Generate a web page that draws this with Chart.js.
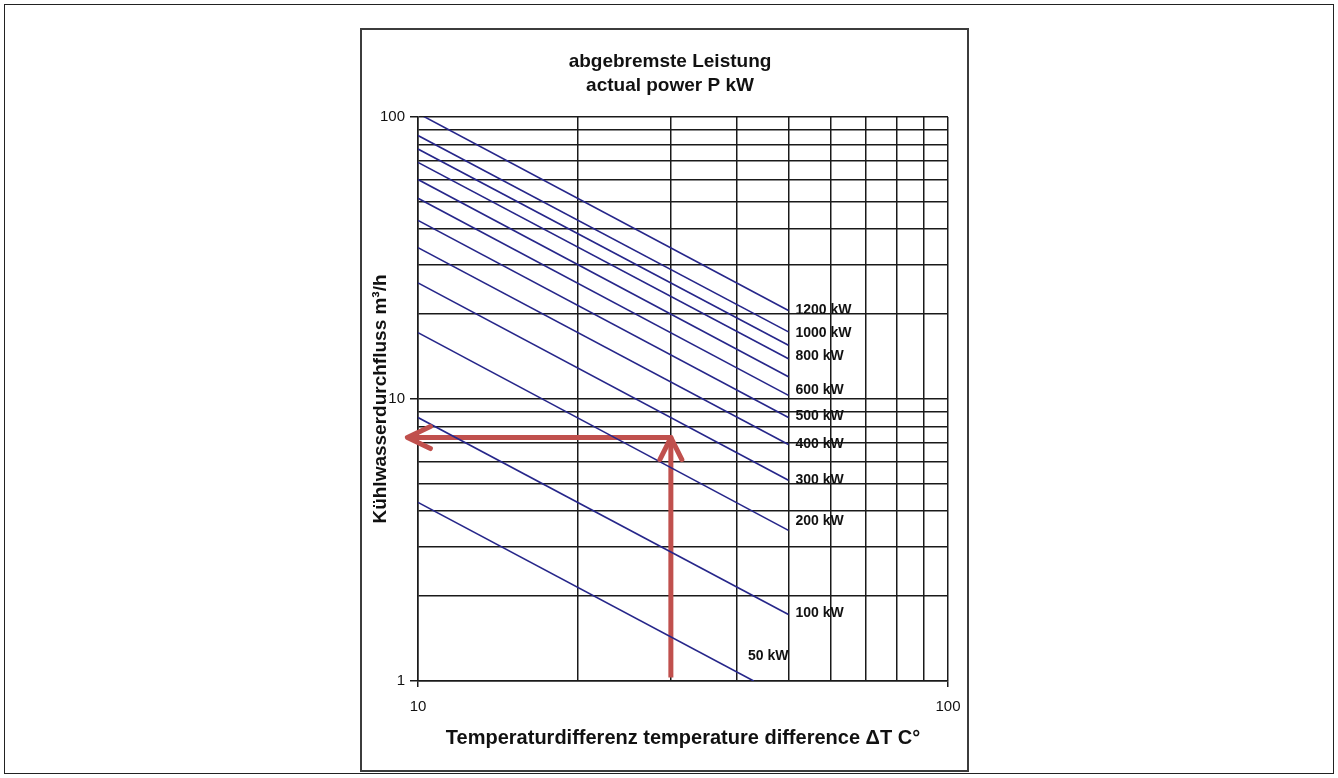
<!DOCTYPE html>
<html lang="de">
<head>
<meta charset="utf-8">
<title>Kühlwasserdurchfluss</title>
<script src="https://cdn.jsdelivr.net/npm/chart.js@4.4.1/dist/chart.umd.min.js"></script>
<style>
  html, body { margin: 0; padding: 0; background: #fff; }
  .page { position: relative; width: 1338px; height: 778px; overflow: hidden; }
  .page-border { position: absolute; left: 4px; top: 4px; width: 1330px; height: 770px; border: 1px solid #222; box-sizing: border-box; }
  .chart-frame { position: absolute; left: 360px; top: 28px; width: 609px; height: 744px; border: 2px solid #3c3c3c; box-sizing: border-box; }
  canvas { position: absolute; left: 0; top: 0; }
</style>
</head>
<body>
<div class="page">
  <div class="page-border"></div>
  <div class="chart-frame"></div>
  <canvas id="flowChart" width="1338" height="778"></canvas>
</div>
<script>
// one line per brake power, from dT = 10 to its end point
const powerLabels = ['1200 kW', '1000 kW', '900 kW', '800 kW', '700 kW', '600 kW', '500 kW', '400 kW', '300 kW', '200 kW', '100 kW', '50 kW'];
const shownLabels = ['1200 kW', '1000 kW', '800 kW', '600 kW', '500 kW', '400 kW', '300 kW', '200 kW', '100 kW', '50 kW'];
const startDeltaT = [10, 10, 10, 10, 10, 10, 10, 10, 10, 10, 10, 10];
const endDeltaT = [50, 50, 50, 50, 50, 50, 50, 50, 50, 50, 50, 43];
const flowStart = [103, 86, 77, 69, 60, 51.5, 43, 34.4, 25.8, 17.2, 8.6, 4.3];
const flowEnd = [20.6, 17.3, 15.5, 13.9, 12, 10.3, 8.6, 6.9, 5.15, 3.42, 1.72, 1];

// grid lines and labelled ticks
const xGridValues = [10, 20, 30, 40, 50, 60, 70, 80, 90, 100];
const yGridValues = [1, 2, 3, 4, 5, 6, 7, 8, 9, 10, 20, 30, 40, 50, 60, 70, 80, 90, 100];
const xTickLabels = [10, 100];
const yTickLabels = [1, 10, 100];

// reading example (red arrows)
const readingDeltaT = 30;
const readingFlow = 7.3;
const arrowStartFlow = 1.03;
const arrowTipDeltaT = 9.55;

const titleLines = ['abgebremste Leistung', 'actual power P kW'];

const FONT = '"Liberation Sans", Arial, sans-serif';
const GRID = '#1a1a1a';
const LINE_BLUE = '#26268a';
const ARROW_RED = '#c0504d';

const labelNudge = { '1000 kW': 1, '800 kW': -3, '600 kW': -5, '500 kW': -1, '200 kW': -9, '100 kW': -1 };

const datasets = powerLabels.map((name, i) => ({
  label: name,
  data: [
    { x: startDeltaT[i], y: flowStart[i] },
    { x: endDeltaT[i], y: flowEnd[i] },
  ],
  borderColor: LINE_BLUE,
  borderWidth: 1.6,
  pointRadius: 0,
  fill: false,
}));

datasets.push({
  label: 'Ablesebeispiel',
  data: [
    { x: readingDeltaT, y: arrowStartFlow },
    { x: readingDeltaT, y: readingFlow },
    { x: arrowTipDeltaT, y: readingFlow },
  ],
  borderColor: ARROW_RED,
  borderWidth: 5,
  borderJoinStyle: 'round',
  pointRadius: 0,
  fill: false,
  clip: false,
});

// two line heading, a bit left of the plot centre like the original sheet
const headingPlugin = {
  id: 'heading',
  beforeDraw(chart) {
    const { ctx, chartArea } = chart;
    const cx = (chartArea.left + chartArea.right) / 2 - 13;
    ctx.save();
    ctx.font = 'bold 19px ' + FONT;
    ctx.fillStyle = '#111';
    ctx.textAlign = 'center';
    ctx.textBaseline = 'middle';
    titleLines.forEach((line, i) => {
      ctx.fillText(line, cx, 62 + i * 24);
    });
    ctx.restore();
  },
};

const powerLabelPlugin = {
  id: 'powerLabels',
  afterDatasetsDraw(chart) {
    const { ctx, scales: { x, y } } = chart;
    ctx.save();
    ctx.font = 'bold 14px ' + FONT;
    ctx.fillStyle = '#111';
    ctx.textBaseline = 'middle';
    powerLabels.forEach((name, i) => {
      if (!shownLabels.includes(name)) {
        return;
      }
      const ex = x.getPixelForValue(endDeltaT[i]);
      const ey = y.getPixelForValue(flowEnd[i]);
      if (endDeltaT[i] < 50) {
        // 50 kW leaves the plot before 50 °C, label sits above it
        ctx.textAlign = 'right';
        ctx.fillText(name, x.getPixelForValue(50), ey - 25);
      } else {
        ctx.textAlign = 'left';
        ctx.fillText(name, ex + 7, ey + (labelNudge[name] || 0));
      }
    });
    ctx.restore();
  },
};

const arrowHeadPlugin = {
  id: 'arrowHeads',
  afterDatasetsDraw(chart) {
    const { ctx, scales: { x, y } } = chart;
    const cx = x.getPixelForValue(readingDeltaT);
    const cy = y.getPixelForValue(readingFlow);
    const tipX = x.getPixelForValue(arrowTipDeltaT);
    ctx.save();
    ctx.strokeStyle = ARROW_RED;
    ctx.lineWidth = 5;
    ctx.lineCap = 'round';
    ctx.lineJoin = 'round';
    ctx.beginPath();
    ctx.moveTo(cx - 11, cy + 22);
    ctx.lineTo(cx, cy);
    ctx.lineTo(cx + 11, cy + 22);
    ctx.moveTo(tipX + 23, cy - 11);
    ctx.lineTo(tipX, cy);
    ctx.lineTo(tipX + 23, cy + 11);
    ctx.stroke();
    ctx.restore();
  },
};

const chart = new Chart(document.getElementById('flowChart'), {
  type: 'line',
  data: { datasets },
  plugins: [headingPlugin, powerLabelPlugin, arrowHeadPlugin],
  options: {
    responsive: false,
    animation: false,
    layout: { padding: { left: 371, right: 390, top: 117, bottom: 28 } },
    plugins: {
      legend: { display: false },
      tooltip: { enabled: false },
      title: { display: false },
    },
    scales: {
      x: {
        type: 'logarithmic',
        min: 10,
        max: 100,
        afterBuildTicks: (scale) => {
          scale.ticks = xGridValues.map((v) => ({ value: v }));
        },
        afterFit: (scale) => {
          scale.height = 69;
        },
        ticks: {
          autoSkip: false,
          maxRotation: 0,
          padding: 11,
          color: '#111',
          font: { family: FONT, size: 15 },
          callback: (v) => (xTickLabels.includes(v) ? String(v) : ''),
        },
        grid: {
          color: GRID,
          lineWidth: 1.5,
          tickLength: 6,
          tickColor: (c) => (c.tick && xTickLabels.includes(c.tick.value) ? GRID : 'rgba(0,0,0,0)'),
        },
        border: { color: GRID, width: 1.5 },
        title: {
          display: true,
          text: 'Temperaturdifferenz temperature difference \u0394T C\u00b0',
          color: '#111',
          font: { family: FONT, size: 20, weight: 'bold', lineHeight: 1.2 },
          padding: 0,
        },
      },
      y: {
        type: 'logarithmic',
        min: 1,
        max: 100,
        afterBuildTicks: (scale) => {
          scale.ticks = yGridValues.map((v) => ({ value: v }));
        },
        afterFit: (scale) => {
          scale.width = 47;
        },
        ticks: {
          autoSkip: false,
          padding: 5,
          color: '#111',
          font: { family: FONT, size: 15 },
          callback: (v) => (yTickLabels.includes(v) ? String(v) : ''),
        },
        grid: {
          color: GRID,
          lineWidth: 1.5,
          tickLength: 8,
          tickColor: (c) => (c.tick && yTickLabels.includes(c.tick.value) ? GRID : 'rgba(0,0,0,0)'),
        },
        border: { color: GRID, width: 1.5 },
        title: {
          display: true,
          text: 'Kühlwasserdurchfluss m³/h',
          color: '#111',
          font: { family: FONT, size: 19, weight: 'bold', lineHeight: 1.2 },
          padding: { top: -2, bottom: 0 },
        },
      },
    },
  },
});
</script>
</body>
</html>
